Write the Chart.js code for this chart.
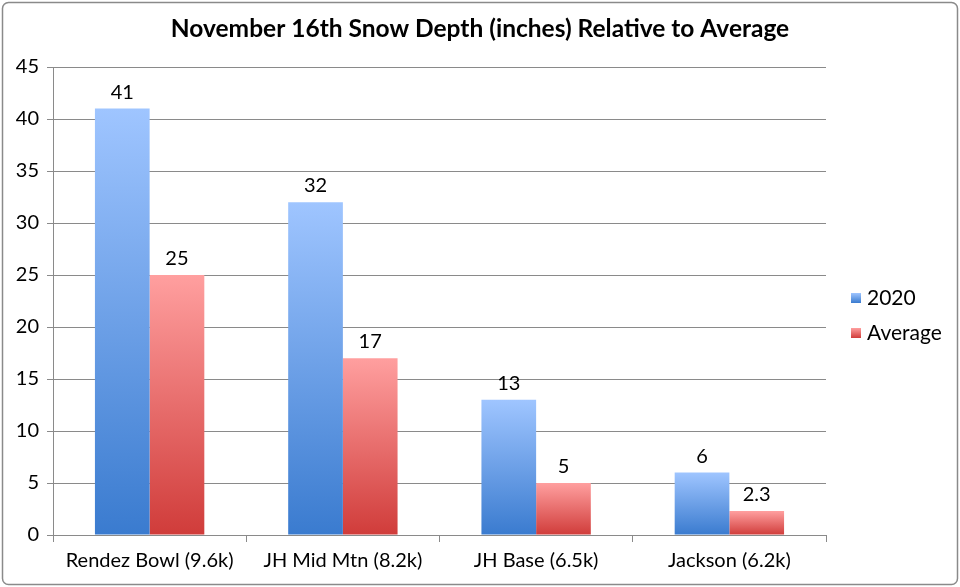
<!DOCTYPE html>
<html><head><meta charset="utf-8">
<script src="https://cdn.jsdelivr.net/npm/chart.js@4/dist/chart.umd.min.js"></script>
<style>html,body{margin:0;padding:0;background:#fff;}#wrap{width:960px;height:587px;position:relative;}</style>
</head><body><div id="wrap"><canvas id="c" width="960" height="587"></canvas></div>
<script>
const titleText = "November 16th Snow Depth (inches) Relative to Average";
const categories = ["Rendez Bowl (9.6k)", "JH Mid Mtn (8.2k)", "JH Base (6.5k)", "Jackson (6.2k)"];
const series2020 = [41, 32, 13, 6];
const seriesAverage = [25, 17, 5, 2.3];
const seriesNames = ["2020", "Average"];
const yTicks = [0, 5, 10, 15, 20, 25, 30, 35, 40, 45];

const FONT = "Lato, 'Open Sans', sans-serif";
const grads = [["#9fc5ff", "#3a7bcf"], ["#ff9f9f", "#d03c3a"]];

function barGrad(dsIndex){
  return function(ctx){
    const chart = ctx.chart;
    const ys = chart.scales && chart.scales.y;
    if (!ys || ctx.parsed === undefined) return grads[dsIndex][0];
    const top = ys.getPixelForValue(ctx.parsed.y);
    const base = ys.getPixelForValue(0);
    if (!isFinite(top) || !isFinite(base) || top === base) return grads[dsIndex][0];
    const g = chart.ctx.createLinearGradient(0, top, 0, base);
    g.addColorStop(0, grads[dsIndex][0]);
    g.addColorStop(1, grads[dsIndex][1]);
    return g;
  };
}

const deco = {
  id: 'deco',
  beforeDraw(chart){
    const c = chart.ctx;
    c.save();
    c.fillStyle = '#fff';
    c.fillRect(0,0,chart.width,chart.height);
    c.strokeStyle = '#8a8a8a';
    c.lineWidth = 1.5;
    c.beginPath();
    if (c.roundRect) c.roundRect(2.5, 2.5, chart.width-5, chart.height-5, 6); else c.rect(2.5,2.5,chart.width-5,chart.height-5);
    c.stroke();
    c.restore();
  },
  afterDraw(chart){
    const c = chart.ctx;
    c.save();
    // title
    c.fillStyle = '#000';
    c.font = "bold 24.5px " + FONT;
    c.textAlign = 'center';
    c.textBaseline = 'middle';
    c.fillText(titleText, 480, 29);
    // value labels
    c.font = "20px " + FONT;
    c.textBaseline = 'alphabetic';
    chart.data.datasets.forEach((ds, di) => {
      const meta = chart.getDatasetMeta(di);
      meta.data.forEach((bar, i) => {
        c.fillText(String(ds.data[i]), bar.x, bar.y - 10);
      });
    });
    // legend
    c.textAlign = 'left';
    c.textBaseline = 'middle';
    c.font = "21px " + FONT;
    const ly = [298, 333];
    seriesNames.forEach((n, i) => {
      const g = c.createLinearGradient(0, ly[i]-5, 0, ly[i]+5);
      g.addColorStop(0, grads[i][0]); g.addColorStop(1, grads[i][1]);
      c.fillStyle = g;
      c.fillRect(851, ly[i]-5, 10, 10);
      c.fillStyle = '#000';
      c.fillText(n, 867, ly[i]);
    });
    c.restore();
  }
};

new Chart(document.getElementById('c'), {
  type: 'bar',
  data: {
    labels: categories,
    datasets: [
      { label: seriesNames[0], data: series2020, backgroundColor: barGrad(0), borderWidth: 0 },
      { label: seriesNames[1], data: seriesAverage, backgroundColor: barGrad(1), borderWidth: 0 }
    ]
  },
  options: {
    responsive: false,
    animation: false,
    devicePixelRatio: 1,
    layout: { padding: { top: 67, left: 0, right: 134, bottom: 0 } },
    plugins: { legend: { display: false }, title: { display: false }, tooltip: { enabled: false } },
    datasets: { bar: { categoryPercentage: 0.566, barPercentage: 1.0 } },
    scales: {
      x: {
        offset: true,
        grid: { display: true, drawOnChartArea: false, drawTicks: true, tickLength: 7, color: '#8a8a8a', offset: true },
        border: { display: true, color: '#8a8a8a', width: 1 },
        ticks: { color: '#000', font: { family: FONT, size: 20 }, padding: 7, maxRotation: 0 },
        afterFit(s){ s.height = 52; }
      },
      y: {
        min: 0, max: 45,
        afterBuildTicks(s){ s.ticks = yTicks.map(v => ({ value: v })); },
        grid: { color: '#8a8a8a', lineWidth: 1, drawTicks: true, tickLength: 6 },
        border: { display: true, color: '#8a8a8a', width: 1 },
        ticks: { color: '#000', font: { family: FONT, size: 20 }, padding: 8 },
        afterFit(s){ s.width = 53; }
      }
    }
  },
  plugins: [deco]
});
</script>
</body></html>
